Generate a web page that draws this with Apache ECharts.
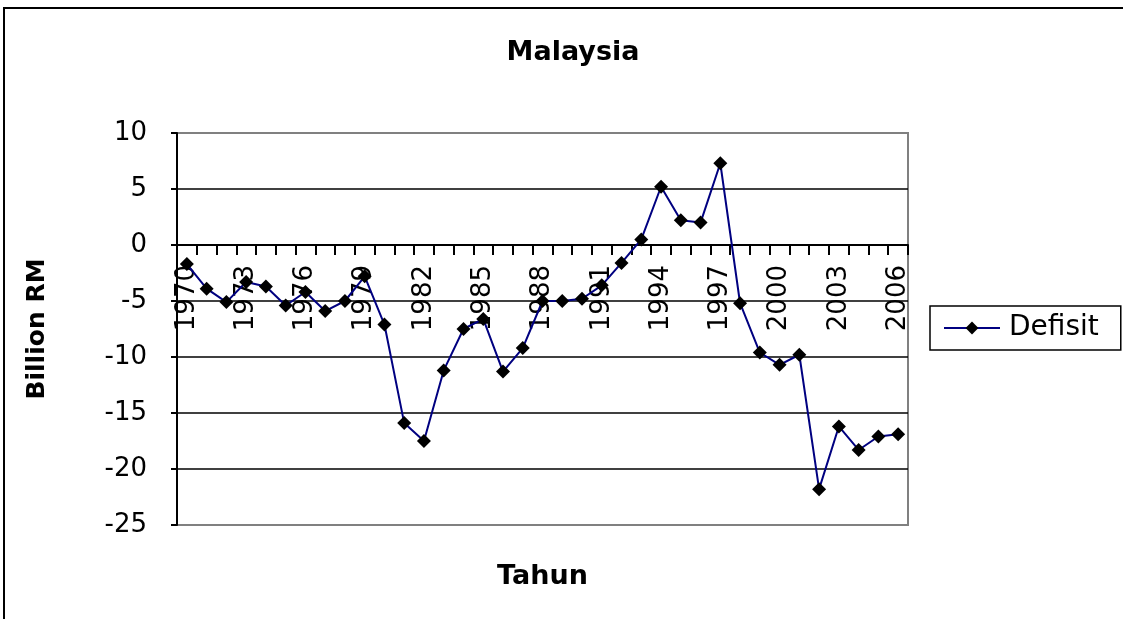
<!DOCTYPE html>
<html>
<head>
<meta charset="utf-8">
<script src="https://cdn.jsdelivr.net/npm/echarts@6/dist/echarts.min.js"></script>
<style>
  html, body { margin: 0; padding: 0; background: #fff; }
  #chart { width: 1123px; height: 619px; }
</style>
</head>
<body>
<div id="chart"></div>
<script>
// Malaysia: government budget balance (Billion RM), 1970–2006
const years = [
  '1970','1971','1972','1973','1974','1975','1976','1977','1978','1979',
  '1980','1981','1982','1983','1984','1985','1986','1987','1988','1989',
  '1990','1991','1992','1993','1994','1995','1996','1997','1998','1999',
  '2000','2001','2002','2003','2004','2005','2006'
];
const defisit = [
  -1.7, -3.9, -5.1, -3.3, -3.7, -5.4, -4.2, -5.9, -5.0, -2.8,
  -7.1, -15.9, -17.5, -11.2, -7.5, -6.6, -11.3, -9.2, -5.0, -5.0,
  -4.8, -3.6, -1.6, 0.5, 5.2, 2.2, 2.0, 7.3, -5.2, -9.6,
  -10.7, -9.8, -21.8, -16.2, -18.3, -17.1, -16.9
];
const yMin = -25, yMax = 10, yStep = 5;

const FONT = 'DejaVu Sans';
const GRID = { left: 177, top: 133, right: 215, bottom: 94 };
const PLOT_H = 619 - GRID.top - GRID.bottom;
// pixel distance from the bottom of the plot to the zero line
const zeroFromBottom = PLOT_H * (0 - yMin) / (yMax - yMin);

const chart = echarts.init(document.getElementById('chart'), null, { renderer: 'canvas' });

chart.setOption({
  animation: false,
  backgroundColor: '#fff',
  title: {
    text: 'Malaysia',
    left: 568,
    textAlign: 'center',
    top: 34,
    textStyle: { fontFamily: FONT, fontWeight: 'bold', fontSize: 27, color: '#000' }
  },
  graphic: [{
    type: 'rect',
    shape: { x: 4, y: 8, width: 1200, height: 700 },
    style: { fill: 'none', stroke: '#000', lineWidth: 2 },
    silent: true, z: 100
  }],
  legend: {
    data: ['Defisit'],
    left: 930,
    top: 306,
    orient: 'vertical',
    padding: [8, 22, 8, 13],
    borderColor: '#000',
    borderWidth: 1.5,
    itemWidth: 56,
    itemHeight: 16,
    textStyle: { fontFamily: FONT, fontSize: 28, color: '#000', padding: [0, 0, 0, 4] }
  },
  grid: {
    left: GRID.left, top: GRID.top, right: GRID.right, bottom: GRID.bottom,
    outerBoundsMode: 'none',
    containLabel: false,
    show: true, borderColor: '#808080', borderWidth: 2
  },
  xAxis: {
    type: 'category',
    data: years,
    boundaryGap: true,
    name: 'Tahun',
    nameLocation: 'middle',
    nameGap: 38,
    nameTextStyle: { fontFamily: FONT, fontWeight: 'bold', fontSize: 27, color: '#000' },
    axisLine: { onZero: true, lineStyle: { color: '#000', width: 2 } },
    axisTick: { show: true, interval: 0, alignWithLabel: false, length: 10, lineStyle: { color: '#000', width: 2 } },
    axisLabel: {
      interval: 2, rotate: 90,
      // year labels sit just below the zero line
      margin: 20 - zeroFromBottom,
      fontFamily: FONT, fontSize: 26, color: '#000'
    },
    splitLine: { show: false }
  },
  yAxis: {
    type: 'value',
    min: yMin, max: yMax, interval: yStep,
    name: 'Billion RM',
    nameLocation: 'middle',
    nameRotate: 90,
    nameGap: 127,
    nameTextStyle: { fontFamily: FONT, fontWeight: 'bold', fontSize: 25, color: '#000' },
    axisLine: { show: true, lineStyle: { color: '#000', width: 2 } },
    axisTick: { show: true, length: 6, lineStyle: { color: '#000', width: 2 } },
    axisLabel: { margin: 30, fontFamily: FONT, fontSize: 26, color: '#000' },
    splitLine: {
      show: true,
      lineStyle: { color: ['#808080', '#000', '#000', '#000', '#000', '#000', '#000', '#808080'], width: 1.5 }
    }
  },
  series: [{
    name: 'Defisit',
    type: 'line',
    data: defisit,
    symbol: 'diamond',
    symbolSize: 14,
    showSymbol: true,
    showAllSymbol: true,
    z: 5,
    lineStyle: { color: '#000080', width: 2 },
    itemStyle: { color: '#000', borderWidth: 0 },
    emphasis: { disabled: true }
  }]
});
</script>
</body>
</html>
